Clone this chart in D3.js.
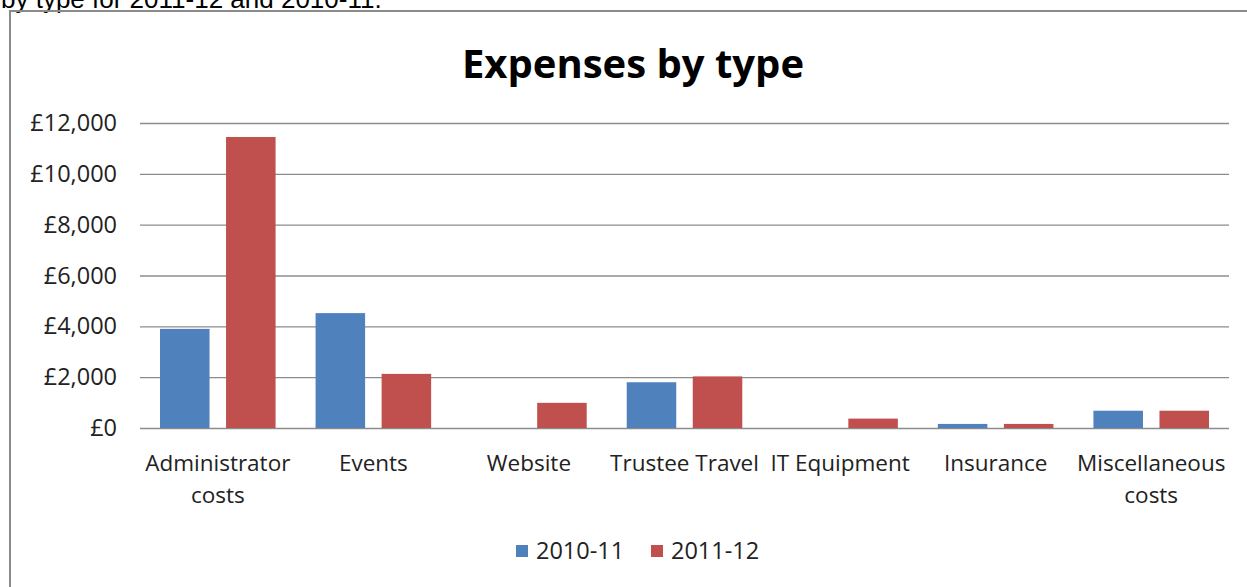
<!DOCTYPE html>
<html>
<head>
<meta charset="utf-8">
<script src="https://cdn.jsdelivr.net/npm/d3@7"></script>
<style>
  html, body { margin: 0; padding: 0; background: #fff; }
  svg { display: block; }
</style>
</head>
<body>
<svg id="chart" width="1247" height="587"></svg>
<script>
// ---- data ----
const categories = [
  ["Administrator", "costs"],
  ["Events"],
  ["Website"],
  ["Trustee Travel"],
  ["IT Equipment"],
  ["Insurance"],
  ["Miscellaneous", "costs"]
];
const seriesNames = ["2010-11", "2011-12"];
const values2010_11 = [3900, 4520, 0, 1800, 0, 160, 680];
const values2011_12 = [11450, 2130, 990, 2030, 370, 160, 680];
const yTicks = [0, 2000, 4000, 6000, 8000, 10000, 12000];
const colors = ["#4F81BD", "#C0504D"];

const svg = d3.select("#chart");
const font = "'Open Sans', Lato, sans-serif";

// caption fragment above the chart
svg.append("text")
  .attr("x", 1).attr("y", 7.5)
  .attr("font-family", "'Liberation Sans', Arial, sans-serif")
  .attr("font-size", 26).attr("fill", "#000")
  .text("by type for 2011-12 and 2010-11.");

// chart frame
svg.append("path")
  .attr("d", "M1247,11 H10 V587")
  .attr("fill", "none").attr("stroke", "#8a8a8a").attr("stroke-width", 2);

const plot = { left: 140, right: 1229, top: 123, bottom: 428 };

const x = d3.scaleBand()
  .domain(d3.range(categories.length))
  .range([plot.left, plot.right])
  .paddingInner(0).paddingOuter(0);

const x1 = d3.scaleBand()
  .domain([0, 1])
  .range([20, x.bandwidth() - 20])
  .paddingInner(0.25);

const y = d3.scaleLinear().domain([0, 12000]).range([plot.bottom, plot.top]);

// title
svg.append("text")
  .attr("x", 633).attr("y", 78)
  .attr("text-anchor", "middle")
  .attr("font-family", font).attr("font-weight", "bold")
  .attr("font-size", 40).attr("fill", "#000")
  .text("Expenses by type");

// gridlines
const yAxis = d3.axisLeft(y)
  .tickValues(yTicks)
  .tickSize(-(plot.right - plot.left))
  .tickPadding(23)
  .tickFormat(d => "£" + d3.format(",")(d));

const gy = svg.append("g")
  .attr("transform", `translate(${plot.left},0)`)
  .call(yAxis);
gy.select(".domain").remove();
gy.selectAll(".tick line").attr("stroke", "#8c8c8c").attr("stroke-width", 1.3);
gy.selectAll(".tick text")
  .attr("font-family", font).attr("font-size", 23.5).attr("fill", "#222");

// bars
const allSeries = [values2010_11, values2011_12];
const groups = svg.append("g").selectAll("g")
  .data(categories.map((c, i) => i))
  .join("g")
  .attr("transform", i => `translate(${x(i)},0)`);

groups.selectAll("rect")
  .data(i => allSeries.map((s, k) => ({ k, v: s[i] })))
  .join("rect")
  .attr("x", d => x1(d.k))
  .attr("width", x1.bandwidth())
  .attr("y", d => y(d.v))
  .attr("height", d => y(0) - y(d.v))
  .attr("fill", d => colors[d.k]);

// category labels
const xAxis = d3.axisBottom(x).tickSize(0).tickFormat("");
const gx = svg.append("g")
  .attr("transform", `translate(0,${plot.bottom})`)
  .call(xAxis);
gx.select(".domain").remove();

const lab = svg.append("g").selectAll("text")
  .data(categories.map((c, i) => ({ c, i })))
  .join("text")
  .attr("text-anchor", "middle")
  .attr("font-family", font).attr("font-size", 22.5).attr("fill", "#222")
  .attr("x", d => x(d.i) + x.bandwidth() / 2)
  .attr("y", 471);
lab.selectAll("tspan")
  .data(d => d.c.map((t, j) => ({ t, j, cx: x(d.i) + x.bandwidth() / 2 })))
  .join("tspan")
  .attr("x", d => d.cx)
  .attr("dy", d => d.j === 0 ? 0 : 32)
  .text(d => d.t);

// legend
const legend = svg.append("g");
const legendItems = [{ x: 516 }, { x: 651 }];
seriesNames.forEach((n, k) => {
  const lx = legendItems[k].x;
  legend.append("rect")
    .attr("x", lx).attr("y", 545).attr("width", 12).attr("height", 12)
    .attr("fill", colors[k]);
  legend.append("text")
    .attr("x", lx + 20).attr("y", 559)
    .attr("font-family", font).attr("font-size", 23.5).attr("fill", "#222")
    .text(n);
});
</script>
</body>
</html>
